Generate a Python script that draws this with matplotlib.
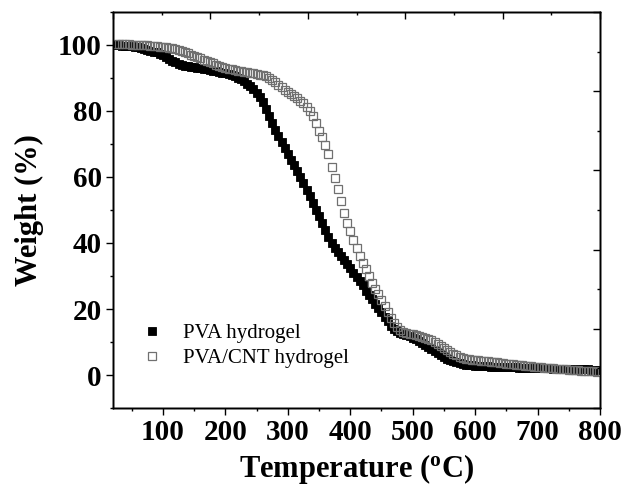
import numpy as np
import matplotlib
matplotlib.use("Agg")
import matplotlib.pyplot as plt
from matplotlib.ticker import MultipleLocator

plt.rcParams['font.family'] = ['Liberation Serif', 'DejaVu Serif']
plt.rcParams['mathtext.fontset'] = 'custom'
plt.rcParams['mathtext.rm'] = 'Liberation Serif:bold'
plt.rcParams['mathtext.bf'] = 'Liberation Serif:bold'
plt.rcParams['mathtext.it'] = 'Liberation Serif:bold'

temperature = np.arange(25, 800, 5)

pva = [
    99.9, 99.9, 99.8, 99.8, 99.7, 99.6, 99.5, 99.3, 99.1, 98.9,   # 25-70
    98.6, 98.3, 98.0, 97.9, 97.4, 96.9, 96.3, 95.7, 95.2, 94.7,   # 75-120
    94.3, 94.0, 93.7, 93.5, 93.3, 93.2, 93.0, 92.9, 92.7, 92.6,   # 125-170
    92.4, 92.2, 92.0, 91.8, 91.6, 91.4, 91.1, 90.8, 90.5, 90.1,   # 175-220
    89.6, 89.0, 88.3, 87.5, 86.7, 85.6, 84.3, 82.7, 80.6, 78.5,   # 225-270
    76.3, 74.2, 72.3, 70.5, 68.7, 67.0, 65.3, 63.6, 61.8, 60.0,   # 275-320
    58.1, 56.2, 54.2, 52.0, 50.0, 48.2, 46.0, 43.8, 41.8, 40.0,   # 325-370
    38.4, 37.2, 36.0, 34.8, 33.6, 32.3, 30.9, 29.7, 28.6, 27.2,   # 375-420
    25.6, 24.3, 23.0, 21.6, 20.2, 19.0, 17.6, 16.3, 15.0, 13.9,   # 425-470
    13.2, 12.8, 12.4, 12.0, 11.7, 11.3, 10.8, 10.2, 9.7, 9.1,     # 475-520
    8.5, 7.9, 7.3, 6.7, 6.0, 5.4, 4.9, 4.5, 4.1, 3.8,             # 525-570
    3.5, 3.3, 3.1, 3.0, 2.9, 2.8, 2.7, 2.7, 2.6, 2.6,             # 575-620
    2.5, 2.5, 2.5, 2.4, 2.4, 2.4, 2.3, 2.3, 2.3, 2.2,             # 625-670
    2.2, 2.2, 2.2, 2.1, 2.1, 2.1, 2.0, 2.0, 2.0, 2.0,             # 675-720
    1.9, 1.9, 1.9, 1.9, 1.8, 1.8, 1.8, 1.8, 1.7, 1.7,             # 725-770
    1.7, 1.7, 1.6, 1.6, 1.6,                                      # 775-795
]

pva_cnt = [
    100.2, 100.2, 100.2, 100.2, 100.2, 100.1, 100.1, 100.0, 100.0, 99.9,  # 25-70
    99.9, 99.8, 99.7, 99.6, 99.5, 99.4, 99.3, 99.2, 99.0, 98.7,          # 75-120
    98.4, 98.1, 97.8, 97.5, 97.1, 96.8, 96.4, 96.0, 95.6, 95.2,          # 125-170
    94.8, 94.4, 94.0, 93.7, 93.4, 93.1, 92.8, 92.6, 92.4, 92.2,          # 175-220
    92.0, 91.8, 91.7, 91.5, 91.4, 91.2, 91.0, 90.8, 90.5, 90.1,          # 225-270
    89.5, 88.8, 88.0, 87.2, 86.5, 85.8, 85.2, 84.6, 83.9, 83.1,          # 275-320
    82.3, 81.3, 80.1, 78.4, 76.4, 74.0, 72.0, 69.8, 67.0, 62.9,          # 325-370
    59.7, 56.4, 52.6, 49.2, 46.1, 43.5, 41.0, 38.4, 36.0, 34.0,          # 375-420
    32.0, 30.0, 27.8, 26.2, 24.5, 22.6, 20.8, 19.0, 17.3, 15.9,          # 425-470
    14.6, 13.7, 13.1, 12.8, 12.5, 12.3, 12.1, 11.9, 11.6, 11.3,          # 475-520
    11.0, 10.6, 10.1, 9.5, 8.8, 8.1, 7.5, 6.9, 6.4, 6.0,                 # 525-570
    5.6, 5.3, 5.0, 4.8, 4.6, 4.5, 4.4, 4.3, 4.2, 4.1,                    # 575-620
    4.0, 3.9, 3.8, 3.6, 3.5, 3.4, 3.3, 3.2, 3.1, 3.0,                    # 625-670
    2.9, 2.8, 2.7, 2.6, 2.5, 2.4, 2.3, 2.2, 2.1, 2.0,                    # 675-720
    2.0, 1.9, 1.8, 1.7, 1.7, 1.6, 1.5, 1.4, 1.4, 1.3,                    # 725-770
    1.2, 1.2, 1.1, 1.1, 1.0,                                             # 775-795
]

series_labels = ['PVA hydrogel', 'PVA/CNT hydrogel']
x_ticks = [100, 200, 300, 400, 500, 600, 700, 800]
y_ticks = [0, 20, 40, 60, 80, 100]

assert len(pva) == len(temperature) and len(pva_cnt) == len(temperature)

fig = plt.figure(figsize=(6.25, 4.87), dpi=100)
ax = fig.add_axes([0.1808, 0.1622, 0.7792, 0.8132])

ax.plot(temperature, pva, linestyle='none', marker='s', markersize=5.6,
        markerfacecolor='black', markeredgecolor='black', markeredgewidth=0.6,
        label=series_labels[0], zorder=2)
ax.plot(temperature, pva_cnt, linestyle='none', marker='s', markersize=5.6,
        markerfacecolor='none', markeredgecolor='#707070', markeredgewidth=0.9,
        label=series_labels[1], zorder=3)

ax.set_xlim(20, 800)
ax.set_ylim(-10, 110)
ax.set_xticks(x_ticks)
ax.set_yticks(y_ticks)
ax.xaxis.set_minor_locator(MultipleLocator(50))
ax.yaxis.set_minor_locator(MultipleLocator(10))
ax.tick_params(axis='both', which='major', direction='out', length=5, width=1.0,
               labelsize=21, pad=3)
ax.tick_params(axis='both', which='minor', direction='out', length=2.5, width=1.0)
for lab in ax.get_xticklabels() + ax.get_yticklabels():
    lab.set_fontweight('bold')
for sp in ax.spines.values():
    sp.set_linewidth(1.0)

# mirrored (unlinked) top and right axes with inward ticks
axr = ax.twinx()
axr.set_ylim(0, 1)
axr.yaxis.set_major_locator(MultipleLocator(0.2))
axr.yaxis.set_minor_locator(MultipleLocator(0.1))
axr.tick_params(axis='y', which='major', direction='in', length=5, width=1.0, labelright=False)
axr.tick_params(axis='y', which='minor', direction='in', length=2.5, width=1.0)
axt = ax.twiny()
axt.set_xlim(0, 1)
axt.xaxis.set_major_locator(MultipleLocator(0.2))
axt.xaxis.set_minor_locator(MultipleLocator(0.1))
axt.tick_params(axis='x', which='major', direction='in', length=5, width=1.0, labeltop=False)
axt.tick_params(axis='x', which='minor', direction='in', length=2.5, width=1.0)
for a in (axr, axt):
    for sp in a.spines.values():
        sp.set_linewidth(1.0)

ax.set_xlabel(r'Temperature ($^{\mathrm{o}}$C)', fontsize=22, fontweight='bold', labelpad=4)
ax.set_ylabel('Weight (%)', fontsize=22, fontweight='bold', labelpad=10)

leg = ax.legend(loc='lower left', bbox_to_anchor=(0.037, 0.075), frameon=False,
                fontsize=15, handlelength=1.0, handletextpad=1.0, labelspacing=0.25,
                borderpad=0, numpoints=1, markerscale=1.05)

fig.savefig('out.png', dpi=100)
